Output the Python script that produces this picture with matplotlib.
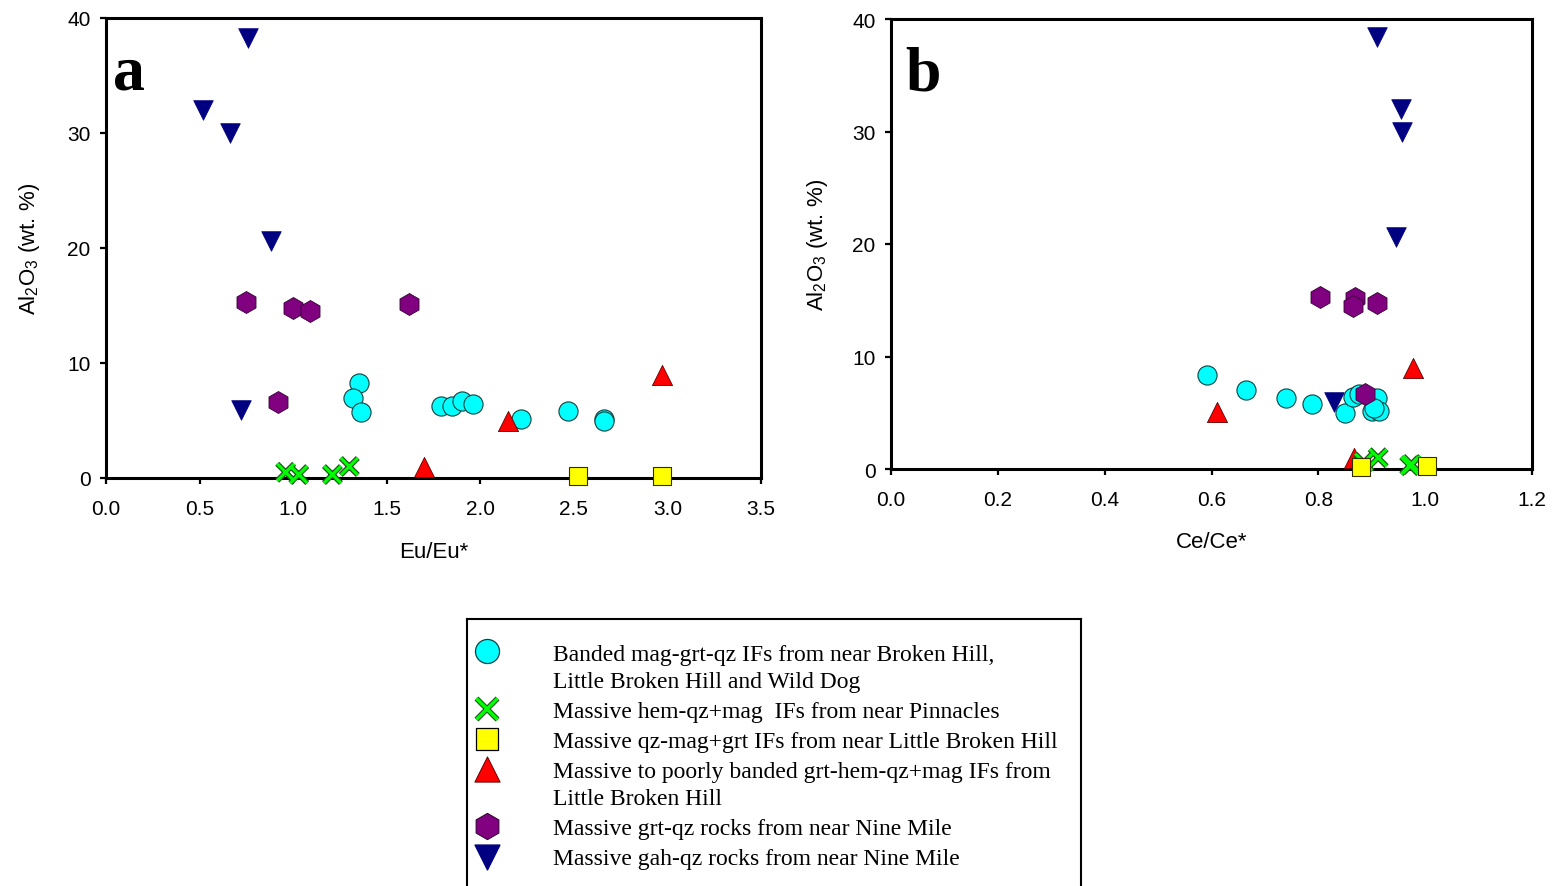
import numpy as np
import matplotlib
matplotlib.use('Agg')
import matplotlib.pyplot as plt
import matplotlib.patheffects as pe

# ---- data ----
# panel a : Eu/Eu* vs Al2O3
circ_eu = [1.35, 1.32, 1.36, 1.79, 1.85, 1.90, 1.96, 2.22, 2.47, 2.66, 2.66]
circ_al_a = [8.3, 7.0, 5.7, 6.3, 6.3, 6.7, 6.4, 5.1, 5.8, 5.1, 5.0]
cross_eu = [0.96, 1.03, 1.21, 1.30]
cross_al_a = [0.5, 0.3, 0.3, 1.0]
sq_eu = [2.52, 2.97]
sq_al_a = [0.2, 0.2]
tri_eu = [2.97, 2.15, 1.70]
tri_al_a = [9.0, 5.0, 1.0]
hex_eu = [0.75, 1.00, 1.09, 1.62, 0.92]
hex_al_a = [15.3, 14.8, 14.5, 15.1, 6.6]
dtri_eu = [0.76, 0.52, 0.66, 0.88, 0.72]
dtri_al_a = [38.3, 32.0, 30.0, 20.6, 5.9]

# panel b : Ce/Ce* vs Al2O3
circ_ce = [0.591, 0.665, 0.740, 0.788, 0.850, 0.865, 0.877, 0.909, 0.901, 0.913, 0.905]
circ_al_b = [8.4, 7.0, 6.3, 5.8, 5.0, 6.4, 6.7, 6.3, 5.2, 5.2, 5.4]
cross_ce = [0.885, 0.912, 0.971, 0.975]
cross_al_b = [0.6, 1.0, 0.3, 0.4]
sq_ce = [0.879, 1.003]
sq_al_b = [0.2, 0.3]
tri_ce = [0.977, 0.611, 0.866]
tri_al_b = [9.0, 5.1, 1.0]
hex_ce = [0.803, 0.868, 0.864, 0.910, 0.888]
hex_al_b = [15.3, 15.2, 14.5, 14.8, 6.7]
dtri_ce = [0.910, 0.955, 0.957, 0.946, 0.829]
dtri_al_b = [38.4, 32.0, 30.0, 20.6, 6.0]

legend_labels = [
    'Banded mag-grt-qz IFs from near Broken Hill,\nLittle Broken Hill and Wild Dog',
    'Massive hem-qz+mag  IFs from near Pinnacles',
    'Massive qz-mag+grt IFs from near Little Broken Hill',
    'Massive to poorly banded grt-hem-qz+mag IFs from\nLittle Broken Hill',
    'Massive grt-qz rocks from near Nine Mile',
    'Massive gah-qz rocks from near Nine Mile',
]

# ---- styles ----
plt.rcParams['font.family'] = ['Liberation Sans', 'DejaVu Sans']
plt.rcParams['mathtext.fontset'] = 'custom'
plt.rcParams['mathtext.rm'] = 'Liberation Sans'
plt.rcParams['mathtext.default'] = 'regular'

CYAN, GREEN, YELLOW = '#00FFFF', '#00FF00', '#FFFF00'
RED, PURPLE, NAVY = '#FF0000', '#800080', '#000080'
x_effect = [pe.Stroke(linewidth=4.0, foreground='#1a5a1a'), pe.Normal()]


def draw_groups(ax, xs, ys):
    (cx, cy), (xx, xy), (sx, sy), (tx, ty), (hx, hy), (dx, dy) = zip(xs, ys)
    ax.scatter(cx, cy, s=190, marker='o', c=CYAN, edgecolors='#104040', linewidths=0.8, zorder=3, clip_on=False)
    ax.scatter(tx, ty, s=210, marker='^', c=RED, edgecolors='#600000', linewidths=0.6, zorder=4, clip_on=False)
    ax.scatter(xx, xy, s=150, marker='x', c=GREEN, linewidths=2.2, zorder=5,
               path_effects=x_effect, clip_on=False)
    ax.scatter(sx, sy, s=175, marker='s', c=YELLOW, edgecolors='#303000', linewidths=0.8, zorder=6, clip_on=False)
    ax.scatter(hx, hy, s=250, marker='h', c=PURPLE, edgecolors='#300030', linewidths=0.6, zorder=7, clip_on=False)
    ax.scatter(dx, dy, s=200, marker='v', c=NAVY, edgecolors=NAVY, linewidths=0.5, zorder=8, clip_on=False)


def style_axes(ax, xlim, xticks, xlabel, letter, lx, ly, ylab_x, xlab_y):
    ax.set_xlim(*xlim)
    ax.set_ylim(0, 40)
    ax.set_xticks(xticks)
    ax.set_xticklabels(['%.1f' % t for t in xticks])
    ax.set_yticks([0, 10, 20, 30, 40])
    for sp in ax.spines.values():
        sp.set_linewidth(2.2)
    ax.tick_params(direction='out', length=4, width=1.6, labelsize=15)
    ax.tick_params(axis='x', pad=11)
    ax.tick_params(axis='y', pad=7)
    ax.set_xlabel(xlabel, fontsize=16)
    ax.set_ylabel('Al$_2$O$_3$ (wt. %)', fontsize=16)
    ax.yaxis.set_label_coords(ylab_x, 0.5)
    ax.xaxis.set_label_coords(0.5, xlab_y)
    ax.text(lx, ly, letter, transform=ax.transAxes, fontsize=46, fontweight='bold',
            family='Liberation Serif', va='baseline', ha='left')


fig = plt.figure(figsize=(15.55, 8.87), dpi=100)
W, H = 1555, 887

ax_a = fig.add_axes([106 / W, 1 - 479 / H, 655 / W, 460 / H])
draw_groups(ax_a,
            [circ_eu, cross_eu, sq_eu, tri_eu, hex_eu, dtri_eu],
            [circ_al_a, cross_al_a, sq_al_a, tri_al_a, hex_al_a, dtri_al_a])
style_axes(ax_a, (0, 3.5), np.arange(0, 3.51, 0.5), 'Eu/Eu*', 'a',
           0.011, 0.846, -0.098, -0.138)

ax_b = fig.add_axes([891 / W, 1 - 470 / H, 641 / W, 450 / H])
draw_groups(ax_b,
            [circ_ce, cross_ce, sq_ce, tri_ce, hex_ce, dtri_ce],
            [circ_al_b, cross_al_b, sq_al_b, tri_al_b, hex_al_b, dtri_al_b])
style_axes(ax_b, (0, 1.2), np.arange(0, 1.21, 0.2), 'Ce/Ce*', 'b',
           0.022, 0.844, -0.095, -0.137)

# ---- legend box drawn by hand (pixel coordinates) ----
lg = fig.add_axes([467 / W, 0, 614 / W, 267 / H])
lg.set_xlim(467, 1081)
lg.set_ylim(887, 620)
lg.set_xticks([])
lg.set_yticks([])
lg.spines['bottom'].set_visible(False)
for k in ('left', 'right', 'top'):
    lg.spines[k].set_linewidth(1.5)

marker_y = [652, 710, 740, 768, 827, 858]
text_y = [669, 713, 743, 786, 830, 860]
kw = dict(clip_on=False)
lg.scatter([487], [marker_y[0]], s=300, marker='o', c=CYAN, edgecolors='#104040', linewidths=0.9, **kw)
lg.scatter([487], [marker_y[1]], s=230, marker='x', c=GREEN, linewidths=2.4, path_effects=x_effect, **kw)
lg.scatter([487], [marker_y[2]], s=260, marker='s', c=YELLOW, edgecolors='black', linewidths=0.9, **kw)
lg.scatter([487], [marker_y[3] + 2], s=330, marker='^', c=RED, edgecolors='#600000', linewidths=0.7, **kw)
lg.scatter([487], [marker_y[4]], s=360, marker='h', c=PURPLE, edgecolors='#300030', linewidths=0.7, **kw)
lg.scatter([487], [marker_y[5]], s=320, marker='v', c=NAVY, edgecolors=NAVY, **kw)
for ty, lab in zip(text_y, legend_labels):
    lg.text(553, ty, lab, fontsize=17, family='Liberation Serif', ha='left', va='center',
            linespacing=1.33)

fig.savefig('out.png', dpi=100)
